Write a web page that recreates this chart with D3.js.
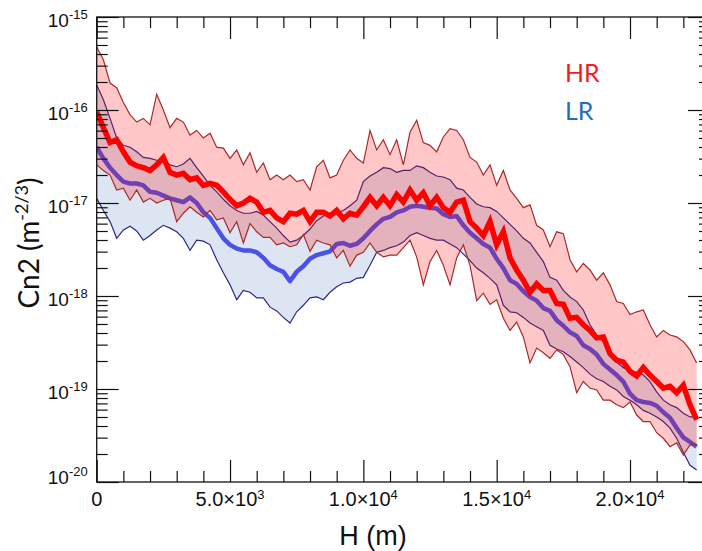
<!DOCTYPE html>
<html>
<head>
<meta charset="utf-8">
<script src="https://cdn.jsdelivr.net/npm/d3@7/dist/d3.min.js"></script>
<style>
body{margin:0;background:#fff;}
svg{display:block;}
</style>
</head>
<body>
<div id="chart"></div>
<script>
// profiles are read every 250 m, from 0 to 22500 m
var heightStep = 250;
// log10(Cn2)
var hrMedian = [-16.02,-16.19,-16.35,-16.32,-16.45,-16.56,-16.60,-16.62,-16.65,-16.59,
    -16.51,-16.67,-16.70,-16.68,-16.75,-16.73,-16.81,-16.79,-16.81,-16.88,
    -16.96,-17.03,-17.00,-16.95,-16.99,-17.10,-17.08,-17.16,-17.20,-17.11,
    -17.12,-17.08,-17.20,-17.10,-17.10,-17.14,-17.08,-17.17,-17.11,-17.13,
    -17.04,-16.94,-17.03,-16.94,-17.03,-16.91,-16.99,-16.86,-16.97,-16.89,
    -17.03,-16.94,-17.05,-17.10,-16.99,-16.97,-17.20,-17.27,-17.35,-17.20,
    -17.45,-17.31,-17.59,-17.72,-17.83,-17.96,-17.87,-17.94,-17.94,-18.08,
    -18.09,-18.24,-18.23,-18.31,-18.37,-18.45,-18.44,-18.62,-18.69,-18.71,
    -18.81,-18.86,-18.77,-18.85,-18.92,-18.99,-18.97,-19.04,-18.96,-19.17,
    -19.33];
var hrUpper = [-15.32,-15.46,-15.71,-15.76,-15.92,-16.05,-16.13,-16.09,-16.16,-15.83,
    -16.00,-16.19,-16.09,-16.13,-16.27,-16.22,-16.30,-16.25,-16.40,-16.41,
    -16.52,-16.43,-16.59,-16.46,-16.67,-16.57,-16.75,-16.70,-16.75,-16.70,
    -16.77,-16.75,-16.86,-16.61,-16.54,-16.73,-16.70,-16.54,-16.43,-16.52,
    -16.57,-16.22,-16.43,-16.32,-16.48,-16.32,-16.59,-16.24,-16.11,-16.35,
    -16.38,-16.45,-16.29,-16.20,-16.22,-16.32,-16.51,-16.56,-16.70,-16.59,
    -16.81,-16.65,-16.86,-16.95,-17.05,-17.02,-17.24,-17.29,-17.47,-17.31,
    -17.33,-17.61,-17.74,-17.65,-17.72,-17.83,-17.75,-17.88,-18.06,-18.08,
    -18.20,-18.17,-18.15,-18.31,-18.44,-18.37,-18.42,-18.44,-18.49,-18.58,
    -18.72];
var hrLower = [-16.59,-16.65,-16.70,-16.86,-16.84,-16.97,-16.86,-16.99,-16.95,-17.00,
    -16.97,-16.95,-17.20,-17.11,-17.04,-17.10,-17.15,-17.08,-17.18,-17.16,
    -17.32,-17.20,-17.43,-17.22,-17.31,-17.37,-17.37,-17.45,-17.43,-17.47,
    -17.45,-17.34,-17.52,-17.40,-17.43,-17.45,-17.59,-17.51,-17.68,-17.56,
    -17.53,-17.43,-17.53,-17.58,-17.56,-17.56,-17.48,-17.40,-17.58,-17.88,
    -17.63,-17.51,-17.67,-17.88,-17.59,-17.45,-17.67,-18.05,-17.97,-18.09,
    -18.04,-18.24,-18.37,-18.28,-18.44,-18.72,-18.56,-18.61,-18.67,-18.58,
    -18.63,-18.76,-19.04,-18.92,-18.99,-19.01,-19.12,-19.12,-19.17,-19.20,
    -19.14,-19.28,-19.35,-19.35,-19.47,-19.53,-19.62,-19.58,-19.71,-19.60,
    -19.60];
var lrMedian = [-16.40,-16.52,-16.62,-16.70,-16.77,-16.79,-16.79,-16.81,-16.88,-16.89,
    -16.92,-16.95,-16.97,-16.99,-16.94,-17.00,-17.10,-17.16,-17.27,-17.38,
    -17.45,-17.49,-17.51,-17.51,-17.53,-17.59,-17.67,-17.71,-17.74,-17.84,
    -17.74,-17.68,-17.60,-17.56,-17.54,-17.52,-17.44,-17.43,-17.46,-17.44,
    -17.38,-17.30,-17.23,-17.17,-17.15,-17.10,-17.08,-17.04,-17.03,-17.04,
    -17.05,-17.06,-17.12,-17.15,-17.14,-17.24,-17.32,-17.38,-17.44,-17.48,
    -17.60,-17.70,-17.83,-17.87,-17.95,-18.01,-18.05,-18.13,-18.16,-18.26,
    -18.32,-18.39,-18.43,-18.53,-18.57,-18.63,-18.73,-18.79,-18.85,-18.92,
    -19.05,-19.12,-19.14,-19.15,-19.18,-19.25,-19.31,-19.42,-19.52,-19.57,
    -19.62];
var lrUpper = [-15.73,-15.89,-16.09,-16.30,-16.38,-16.40,-16.45,-16.51,-16.52,-16.54,
    -16.56,-16.59,-16.61,-16.58,-16.52,-16.62,-16.71,-16.81,-16.88,-16.96,
    -17.03,-17.08,-17.11,-17.11,-17.09,-17.13,-17.20,-17.27,-17.35,-17.42,
    -17.40,-17.35,-17.28,-17.19,-17.14,-17.11,-17.11,-17.08,-17.03,-16.97,
    -16.77,-16.71,-16.67,-16.62,-16.63,-16.67,-16.65,-16.65,-16.60,-16.62,
    -16.67,-16.71,-16.72,-16.75,-16.84,-16.86,-16.94,-17.01,-17.04,-17.05,
    -17.09,-17.16,-17.23,-17.30,-17.38,-17.43,-17.53,-17.63,-17.80,-17.83,
    -17.94,-18.01,-18.06,-18.15,-18.31,-18.42,-18.49,-18.60,-18.71,-18.77,
    -18.80,-18.82,-18.85,-18.92,-19.03,-19.12,-19.17,-19.20,-19.26,-19.30,
    -19.30];
var lrLower = [-16.95,-17.08,-17.20,-17.38,-17.29,-17.25,-17.30,-17.40,-17.35,-17.29,
    -17.24,-17.27,-17.31,-17.38,-17.51,-17.40,-17.41,-17.45,-17.61,-17.75,
    -17.88,-18.04,-17.94,-17.96,-18.02,-18.02,-18.12,-18.16,-18.23,-18.29,
    -18.17,-18.10,-18.02,-18.01,-18.04,-17.96,-17.90,-17.86,-17.85,-17.81,
    -17.80,-17.67,-17.53,-17.51,-17.48,-17.46,-17.42,-17.35,-17.32,-17.35,
    -17.38,-17.40,-17.40,-17.44,-17.48,-17.55,-17.62,-17.70,-17.75,-17.81,
    -17.88,-18.10,-18.17,-18.18,-18.23,-18.29,-18.33,-18.37,-18.53,-18.57,
    -18.60,-18.65,-18.71,-18.77,-18.84,-18.89,-18.92,-18.97,-19.01,-19.08,
    -19.12,-19.17,-19.23,-19.26,-19.30,-19.35,-19.42,-19.53,-19.68,-19.82,
    -19.87];

var xMajor = [0, 5000, 10000, 15000, 20000];
var xTickLabels = [['0', ''], ['5.0\u00d710', '3'], ['1.0\u00d710', '4'], ['1.5\u00d710', '4'], ['2.0\u00d710', '4']];
var yMajor = [1e-20, 1e-19, 1e-18, 1e-17, 1e-16, 1e-15];
var yTickLabels = ['-20', '-19', '-18', '-17', '-16', '-15'];
var legendNames = ['HR', 'LR'];
var legendColors = ['#f21d1d', '#1f6fbd'];

function drawChart(){
    var W = 702, H = 551;
    var mLeft = 96.7, mRight = 710, mTop = 17, mBottom = 482;
    var labelFont = '"Liberation Sans", Arial, Helvetica, sans-serif';
    var titleFont = 'Lato, "Open Sans", sans-serif';

    var svg = d3.select('#chart').append('svg')
        .attr('width', W)
        .attr('height', H);

    var x = d3.scaleLinear().domain([0, 23000]).range([mLeft, mRight]);
    var y = d3.scaleLog().domain([1e-20, 1e-15]).range([mBottom, mTop]);

    function rows(lo, mid, hi){
        var out = [];
        for(var i = 0; i < mid.length; i++){
            out.push({h: i*heightStep, lo: Math.pow(10, lo[i]), mid: Math.pow(10, mid[i]), hi: Math.pow(10, hi[i])});
        }
        return out;
    }
    var hr = rows(hrLower, hrMedian, hrUpper);
    var lr = rows(lrLower, lrMedian, lrUpper);

    svg.append('clipPath').attr('id', 'plotclip')
        .append('rect')
        .attr('x', mLeft).attr('y', mTop)
        .attr('width', mRight-mLeft).attr('height', mBottom-mTop);

    var plot = svg.append('g').attr('clip-path', 'url(#plotclip)');

    var band = d3.area()
        .x(function(d){ return x(d.h); })
        .y0(function(d){ return y(d.lo); })
        .y1(function(d){ return y(d.hi); });
    var lineOf = function(key){
        return d3.line()
            .x(function(d){ return x(d.h); })
            .y(function(d){ return y(d[key]); });
    };

    // LR first, the HR band is see-through on top of it
    plot.append('path').datum(lr).attr('d', band)
        .attr('fill', '#dce5f1').attr('stroke', 'none');
    plot.append('path').datum(lr).attr('d', lineOf('hi'))
        .attr('fill', 'none').attr('stroke', '#2a2a86').attr('stroke-width', 1.2);
    plot.append('path').datum(lr).attr('d', lineOf('lo'))
        .attr('fill', 'none').attr('stroke', '#2a2a86').attr('stroke-width', 1.2);
    plot.append('path').datum(lr).attr('d', lineOf('mid'))
        .attr('fill', 'none').attr('stroke', '#4b52e8').attr('stroke-width', 4.5)
        .attr('stroke-linejoin', 'round');

    plot.append('path').datum(hr).attr('d', band)
        .attr('fill', 'rgba(255,0,0,0.22)').attr('stroke', 'none');
    plot.append('path').datum(hr).attr('d', lineOf('hi'))
        .attr('fill', 'none').attr('stroke', '#a82a2a').attr('stroke-width', 1.2);
    plot.append('path').datum(hr).attr('d', lineOf('lo'))
        .attr('fill', 'none').attr('stroke', '#a82a2a').attr('stroke-width', 1.2);
    plot.append('path').datum(hr).attr('d', lineOf('mid'))
        .attr('fill', 'none').attr('stroke', '#ff0000').attr('stroke-width', 5.5)
        .attr('stroke-linejoin', 'miter');

    // ticks, all pointing inwards
    var xMinor = d3.range(1000, 23000, 1000).filter(function(v){ return v % 5000 != 0; });
    var yMinor = [];
    for(var e = -20; e < -15; e++){
        for(var k = 2; k <= 9; k++) yMinor.push(k*Math.pow(10, e));
    }
    function ticks(axis, pos, values, size){
        var g = svg.append('g')
            .attr('transform', pos)
            .call(axis.tickValues(values).tickSize(-size).tickSizeOuter(0).tickFormat(''));
        g.select('.domain').remove();
        g.selectAll('line').attr('stroke', '#111').attr('stroke-width', 1.2);
    }
    ticks(d3.axisBottom(x), 'translate(0,'+mBottom+')', xMajor, 22);
    ticks(d3.axisBottom(x), 'translate(0,'+mBottom+')', xMinor, 11);
    ticks(d3.axisTop(x), 'translate(0,'+mTop+')', xMajor, 22);
    ticks(d3.axisTop(x), 'translate(0,'+mTop+')', xMinor, 11);
    ticks(d3.axisLeft(y), 'translate('+mLeft+',0)', yMajor, 22);
    ticks(d3.axisLeft(y), 'translate('+mLeft+',0)', yMinor, 11);
    ticks(d3.axisRight(y), 'translate('+mRight+',0)', yMajor, 22);
    ticks(d3.axisRight(y), 'translate('+mRight+',0)', yMinor, 11);

    svg.append('rect')
        .attr('x', mLeft).attr('y', mTop)
        .attr('width', mRight-mLeft).attr('height', mBottom-mTop)
        .attr('fill', 'none').attr('stroke', '#111').attr('stroke-width', 1.3);

    // tick labels
    xMajor.forEach(function(v, i){
        var t = svg.append('text')
            .attr('x', x(v)).attr('y', mBottom+24)
            .attr('text-anchor', 'middle')
            .attr('font-family', labelFont).attr('font-size', 20).attr('fill', '#111');
        t.append('tspan').text(xTickLabels[i][0]);
        if(xTickLabels[i][1]){
            t.append('tspan').attr('dy', -7).attr('font-size', 13).text(xTickLabels[i][1]);
        }
    });
    yMajor.forEach(function(v, i){
        var off = (i == 0) ? 2 : 10;
        var t = svg.append('text')
            .attr('x', mLeft-9).attr('y', y(v)+off)
            .attr('text-anchor', 'end')
            .attr('font-family', labelFont).attr('font-size', 19).attr('fill', '#111');
        t.append('tspan').text('10');
        t.append('tspan').attr('dy', -8).attr('font-size', 13).text(yTickLabels[i]);
    });

    // axis titles
    svg.append('text')
        .attr('x', 373).attr('y', 545)
        .attr('text-anchor', 'middle')
        .attr('font-family', labelFont).attr('font-size', 27).attr('fill', '#111')
        .text('H (m)');

    var yt = svg.append('text')
        .attr('transform', 'translate(39,243) rotate(-90)')
        .attr('text-anchor', 'middle')
        .attr('font-family', titleFont).attr('font-size', 28).attr('fill', '#111');
    yt.append('tspan').text('Cn2 (m');
    yt.append('tspan').attr('dy', -11).attr('font-size', 18).text('-2/3');
    yt.append('tspan').attr('dy', 11).text(')');

    // legend
    legendNames.forEach(function(name, i){
        svg.append('text')
            .attr('x', 565).attr('y', 82 + i*38)
            .attr('font-family', titleFont).attr('font-size', 25)
            .attr('fill', legendColors[i])
            .text(name);
    });
}
drawChart();
</script>
</body>
</html>
